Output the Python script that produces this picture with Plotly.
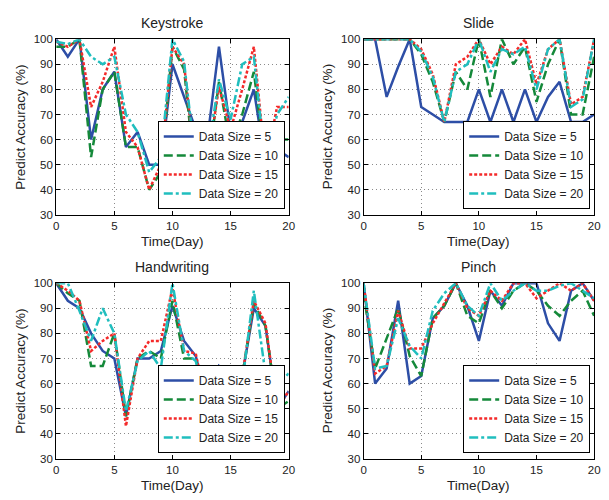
import plotly.graph_objects as go

# ---------------- data ----------------
days = list(range(21))
series_names = ["Data Size = 5", "Data Size = 10", "Data Size = 15", "Data Size = 20"]
panel_titles = ["Keystroke", "Slide", "Handwriting", "Pinch"]
x_ticks = [0, 5, 10, 15, 20]
y_ticks = [30, 40, 50, 60, 70, 80, 90, 100]

keystroke_5 = [100, 93, 100, 60, 80, 87, 57, 63, 50, 50, 90, 77, 64, 60, 97, 63, 67, 80, 50, 56, 53]
keystroke_10 = [97, 97, 100, 53, 80, 87, 57, 57, 40, 47, 97, 88, 43, 47, 83, 57, 70, 87, 50, 60, 60]
keystroke_15 = [99, 97, 100, 73, 83, 97, 63, 57, 40, 50, 97, 90, 47, 50, 81, 64, 80, 97, 50, 73, 73]
keystroke_20 = [99, 98, 100, 93, 90, 93, 70, 63, 47, 53, 100, 91, 50, 53, 84, 68, 90, 93, 50, 70, 77]

slide_5 = [100, 100, 77, 89, 100, 73, 70, 67, 67, 67, 80, 67, 80, 67, 80, 67, 77, 83, 67, 67, 70]
slide_10 = [100, 100, 100, 100, 100, 94, 83, 67, 87, 80, 100, 77, 100, 90, 97, 75, 90, 100, 70, 70, 93]
slide_15 = [100, 100, 100, 100, 100, 96, 86, 67, 90, 93, 100, 90, 97, 94, 100, 82, 96, 100, 74, 77, 100]
slide_20 = [100, 100, 100, 100, 100, 95, 85, 67, 87, 90, 100, 87, 96, 94, 97, 80, 96, 100, 73, 76, 100]

handwriting_5 = [100, 93, 90, 80, 73, 70, 47, 70, 70, 73, 91, 77, 71, 53, 67, 63, 63, 90, 83, 50, 57]
handwriting_10 = [100, 96, 93, 67, 67, 80, 47, 70, 73, 70, 93, 70, 70, 50, 57, 60, 63, 92, 83, 50, 53]
handwriting_15 = [100, 97, 93, 73, 77, 80, 43, 70, 77, 77, 98, 73, 72, 50, 58, 62, 63, 93, 84, 50, 57]
handwriting_20 = [100, 100, 89, 77, 90, 80, 49, 69, 73, 66, 100, 73, 69, 52, 50, 50, 60, 97, 64, 60, 64]

pinch_5 = [100, 60, 66, 93, 60, 63, 86, 91, 100, 91, 77, 97, 91, 100, 100, 100, 84, 77, 97, 100, 93]
pinch_10 = [96, 66, 78, 90, 71, 63, 86, 91, 100, 87, 84, 97, 90, 97, 100, 97, 91, 87, 93, 97, 87]
pinch_15 = [100, 64, 67, 89, 74, 74, 84, 92, 100, 90, 87, 97, 93, 100, 100, 94, 97, 100, 97, 100, 93]
pinch_20 = [100, 66, 67, 86, 75, 70, 89, 96, 100, 91, 87, 100, 93, 97, 100, 97, 97, 99, 100, 97, 94]

panels = [
    [keystroke_5, keystroke_10, keystroke_15, keystroke_20],
    [slide_5, slide_10, slide_15, slide_20],
    [handwriting_5, handwriting_10, handwriting_15, handwriting_20],
    [pinch_5, pinch_10, pinch_15, pinch_20],
]

# ---------------- style ----------------
W, H = 609, 500
colors = ["#2D4EA6", "#15893A", "#F42A2A", "#20BEBE"]
dashes = ["solid", "9px,4px", "3px,2px", "9px,3px,3px,3px"]
FONT = "Liberation Sans, Arial, Helvetica, sans-serif"

# pixel boxes of plot areas: (left, right, top, bottom)
boxes = [(54, 290, 34, 214), (366, 600, 34, 214), (54, 290, 284, 464), (366, 600, 284, 464)]

fig = go.Figure()

for i, series in enumerate(panels):
    sfx = "" if i == 0 else str(i + 1)
    leg = "legend" if i == 0 else "legend%d" % (i + 1)
    for j, vals in enumerate(series):
        fig.add_trace(go.Scatter(
            x=days, y=vals, mode="lines", name=series_names[j],
            line=dict(color=colors[j], width=2.5, dash=dashes[j]),
            xaxis="x" + sfx, yaxis="y" + sfx, legend=leg,
        ))

layout = dict(
    width=W, height=H, autosize=False,
    margin=dict(l=0, r=0, t=0, b=0),
    paper_bgcolor="white", plot_bgcolor="white",
    font=dict(family=FONT, color="#222222"),
    annotations=[],
)

axis_common = dict(
    showline=True, linecolor="black", linewidth=1, mirror="ticks",
    ticks="inside", ticklen=4, tickcolor="black", tickwidth=1,
    showgrid=True, gridcolor="#8a8a8a", griddash="1px,3px", gridwidth=1,
    zeroline=False, tickfont=dict(size=11.5, family=FONT, color="#222222"),
)

for i, (l, r, t, b) in enumerate(boxes):
    sfx = "" if i == 0 else str(i + 1)
    xd = [l / W, r / W]
    yd = [1 - b / H, 1 - t / H]
    layout["xaxis" + sfx] = dict(axis_common, domain=xd, range=[0, 20], tickvals=x_ticks,
                                 anchor="y" + sfx)
    layout["yaxis" + sfx] = dict(axis_common, domain=yd, range=[30, 100], tickvals=y_ticks,
                                 anchor="x" + sfx)
    leg = "legend" if i == 0 else "legend%d" % (i + 1)
    layout[leg] = dict(
        x=(r - 4) / W, y=1 - (b - 6) / H, xanchor="right", yanchor="bottom",
        xref="paper", yref="paper",
        bgcolor="white", bordercolor="black", borderwidth=1,
        font=dict(size=12, family=FONT, color="#222222"),
        itemwidth=30, tracegroupgap=0,
    )
    cx = (l + r) / 2 / W
    layout["annotations"].append(dict(
        text=panel_titles[i], x=cx, y=1 - (t - 17) / H, xref="paper", yref="paper",
        xanchor="center", yanchor="middle", showarrow=False,
        font=dict(size=14, family=FONT, color="#222222")))
    layout["annotations"].append(dict(
        text="Time(Day)", x=cx, y=1 - (b + 27) / H, xref="paper", yref="paper",
        xanchor="center", yanchor="middle", showarrow=False,
        font=dict(size=13.5, family=FONT, color="#222222")))
    layout["annotations"].append(dict(
        text="Predict Accuracy (%)", x=(l - 37) / W, y=1 - (t + b) / 2 / H,
        xref="paper", yref="paper", textangle=-90,
        xanchor="center", yanchor="middle", showarrow=False,
        font=dict(size=13.5, family=FONT, color="#222222")))

fig.update_layout(**layout)
fig.write_html(
    "out.html",
    config={"displayModeBar": False},
    post_script="document.body.style.margin='0px';document.documentElement.style.overflow='hidden';",
)
